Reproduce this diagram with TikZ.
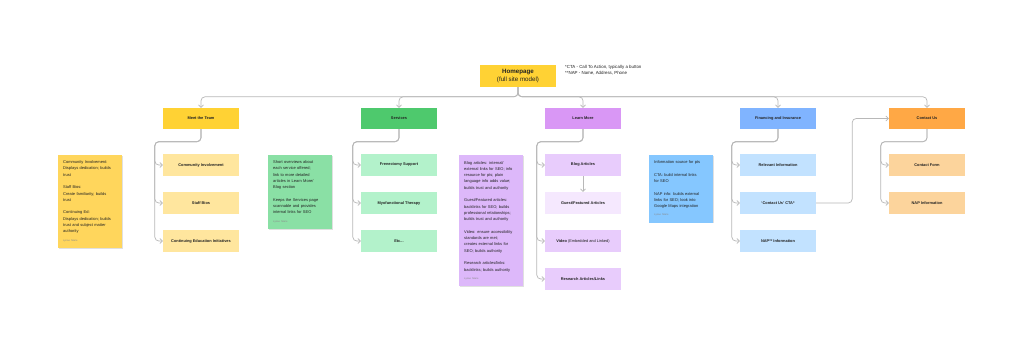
\documentclass[tikz,border=0pt]{standalone}
\usepackage{fontspec}
\setmainfont{Liberation Sans}
\usetikzlibrary{arrows.meta,shadows}
\definecolor{homeYel}{HTML}{FFD234}
\definecolor{teamLt}{HTML}{FFE69E}
\definecolor{teamNote}{HTML}{FFD65C}
\definecolor{servGrn}{HTML}{4EC96D}
\definecolor{servLt}{HTML}{B3F2CB}
\definecolor{servNote}{HTML}{8AE0A5}
\definecolor{learnPur}{HTML}{D997F5}
\definecolor{learnLt}{HTML}{E8CCFC}
\definecolor{learnPale}{HTML}{F5E8FE}
\definecolor{learnNote}{HTML}{DDB8FA}
\definecolor{finBlu}{HTML}{80B4FF}
\definecolor{finLt}{HTML}{C2E2FF}
\definecolor{finNote}{HTML}{85C7FF}
\definecolor{contOra}{HTML}{FFA845}
\definecolor{contLt}{HTML}{FCD49C}
\definecolor{connGray}{HTML}{B8B8B8}
\definecolor{sigGray}{HTML}{8A8A8A}
\definecolor{inkDark}{HTML}{222222}
\tikzset{
  home/.style    = {fill=homeYel, minimum width=76pt, minimum height=22pt, inner sep=1pt,
                    align=center, font=\fontsize{6.2}{8.4}\selectfont},
  hdr/.style     = {minimum width=76pt, minimum height=21pt, inner sep=1pt,
                    font=\fontsize{3.9}{4.6}\selectfont\bfseries},
  sub/.style     = {minimum width=76pt, minimum height=22pt, inner sep=1pt,
                    font=\fontsize{3.9}{4.6}\selectfont\bfseries},
  sticky/.style  = {anchor=north west, text width=54pt, inner xsep=5pt, inner ysep=6pt,
                    align=left, font=\fontsize{4}{6.3}\selectfont,
                    drop shadow={shadow xshift=0.4pt, shadow yshift=-0.9pt, opacity=0.12, fill=black}},
  fnote/.style   = {anchor=north west, inner sep=0pt, align=left, font=\fontsize{4.4}{6.6}\selectfont},
  conn/.style    = {draw=connGray, line width=0.7pt, rounded corners=4pt,
                    -{Straight Barb[length=2.4pt,width=5pt]}},
}
\newcommand{\sig}{\\[2pt]{\fontsize{2.5}{3}\selectfont\color{sigGray}Lynae Marie}}
\newcommand{\etcdots}{Etc...}

\begin{document}
\begin{tikzpicture}[x=1pt, y=-1pt, text=inkDark]

\fill[white] (0,0) rectangle (1024,358);
\useasboundingbox (0,0) rectangle (1024,358);

% ── Top level ────────────────────────────────────────────────
\node[home] (home) at (518,76) {\textbf{Homepage}\\(full site model)};
\node[fnote] (fn) at (565,65) {*CTA - Call To Action, typically a button\\**NAP - Name, Address, Phone};

% ── Section headers (all at Y = 118.5) ──────────────────────
\def\Y{118.5}
\node[hdr, fill=homeYel]  (team)  at (201,\Y) {Meet the Team};
\node[hdr, fill=servGrn]  (serv)  at (399,\Y) {Services};
\node[hdr, fill=learnPur] (learn) at (583,\Y) {Learn More};
\node[hdr, fill=finBlu]   (fin)   at (778,\Y) {Financing and Insurance};
\node[hdr, fill=contOra]  (cont)  at (927,\Y) {Contact Us};

% bus from homepage down to every header
\foreach \h in {team,serv,learn,fin,cont}{
  \draw[conn] (home.south) |- ([yshift=11pt]\h.north) -- (\h.north);
}

% ── MEET THE TEAM ────────────────────────────────────────────
\foreach \nm/\txt/\yy in {tci/Community Involvement/165, tsb/Staff Bios/203,
    tce/Continuing Education Initiatives/241}{
  \node[sub, fill=teamLt] (\nm) at (201,\yy) {\txt};
  \draw[conn] (team.south) -- ++(0,12.5) -| ([xshift=-8pt]\nm.west) -- (\nm.west);
}
\node[sticky, fill=teamNote] (teamnote) at (58,154.5) {%
  Community Involvement:\\Displays dedication; builds\\trust\\[6.3pt]
  Staff Bios:\\Create familiarity; builds\\trust\\[6.3pt]
  Continuing Ed:\\Displays dedication; builds\\trust and subject matter\\authority\sig};

% ── SERVICES ─────────────────────────────────────────────────
\foreach \nm/\txt/\yy in {sfs/Frenectomy Support/165, smt/Myofunctional Therapy/203,
    setc/\etcdots/241}{
  \node[sub, fill=servLt] (\nm) at (399,\yy) {\txt};
  \draw[conn] (serv.south) -- ++(0,12.5) -| ([xshift=-8pt]\nm.west) -- (\nm.west);
}
\node[sticky, fill=servNote] (servnote) at (268,154.5) {%
  Short overviews about\\each service offered;\\link to more detailed\\articles in Learn More/\\Blog section\\[6.3pt]
  Keeps the Services page\\scannable and provides\\internal links for SEO\sig};

% ── LEARN MORE ───────────────────────────────────────────────
\node[sub, fill=learnLt]   (lblog)  at (583,165) {Blog Articles};
\node[sub, fill=learnPale] (lguest) at (583,203) {Guest/Featured Articles};
\node[sub, fill=learnLt]   (lvid)   at (583,241) {Video {\mdseries (Embedded and Linked)}};
\node[sub, fill=learnLt]   (lres)   at (583,279) {Research Articles/Links};
\foreach \nm in {lblog,lvid,lres}{
  \draw[conn] (learn.south) -- ++(0,12.5) -| ([xshift=-8pt]\nm.west) -- (\nm.west);
}
\draw[conn] (lblog.south) -- (lguest.north);
\node[sticky, fill=learnNote] (learnnote) at (459,155) {%
  Blog articles: internal/\\external links for SEO; info\\resource for pts; plain\\language info adds value;\\builds trust and authority\\[6.3pt]
  Guest/Featured articles:\\backlinks for SEO; builds\\professional relationships;\\builds trust and authority\\[6.3pt]
  Video: ensure accessibility\\standards are met;\\creates external links for\\SEO; builds authority\\[6.3pt]
  Research articles/links:\\backlinks; builds authority\sig};

% ── FINANCING AND INSURANCE ──────────────────────────────────
\foreach \nm/\txt/\yy in {frel/Relevant Information/165, fcta/‘Contact Us’ CTA*/203,
    fnap/NAP** Information/241}{
  \node[sub, fill=finLt] (\nm) at (778,\yy) {\txt};
  \draw[conn] (fin.south) -- ++(0,12.5) -| ([xshift=-8pt]\nm.west) -- (\nm.west);
}
\node[sticky, fill=finNote] (finnote) at (649,154.5) {%
  Information source for pts\\[6.3pt]
  CTA: build internal links\\for SEO\\[6.3pt]
  NAP info: builds external\\links for SEO; look into\\Google Maps integration\sig};

% ── CONTACT US ───────────────────────────────────────────────
\foreach \nm/\txt/\yy in {cform/Contact Form/165, cnap/NAP Information/203}{
  \node[sub, fill=contLt] (\nm) at (927,\yy) {\txt};
  \draw[conn] (cont.south) -- ++(0,12.5) -| ([xshift=-8pt]\nm.west) -- (\nm.west);
}
% CTA jumps across to Contact Us
\draw[conn] (fcta.east) -- ++(36,0) |- (cont.west);

\end{tikzpicture}
\end{document}
